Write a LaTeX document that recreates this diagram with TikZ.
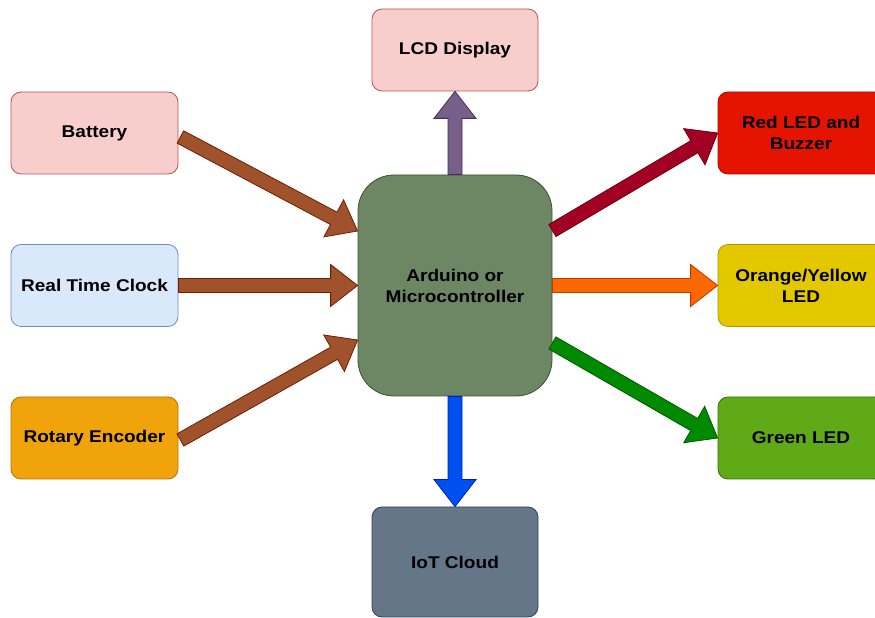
\documentclass[tikz,border=0pt]{standalone}
\usepackage{fontspec}
\setmainfont[FakeStretch=1.12]{Liberation Sans}
\usetikzlibrary{calc}
\definecolor{pinkF}{HTML}{F8CECC}\definecolor{pinkD}{HTML}{B85450}
\definecolor{blueF}{HTML}{DAE8FC}\definecolor{blueD}{HTML}{6C8EBF}
\definecolor{oranF}{HTML}{F0A30A}\definecolor{oranD}{HTML}{BD7000}
\definecolor{ardF}{HTML}{6D8764}\definecolor{ardD}{HTML}{3A5431}
\definecolor{redF}{HTML}{E51400}\definecolor{redD}{HTML}{B20000}
\definecolor{yelF}{HTML}{E3C800}\definecolor{yelD}{HTML}{B09500}
\definecolor{grnF}{HTML}{60A917}\definecolor{grnD}{HTML}{2D7600}
\definecolor{iotF}{HTML}{647687}\definecolor{iotD}{HTML}{314354}
\definecolor{brownF}{HTML}{A0522D}\definecolor{brownD}{HTML}{6D1F00}
\definecolor{purF}{HTML}{76608A}\definecolor{purD}{HTML}{432D57}
\definecolor{cobF}{HTML}{0050EF}\definecolor{cobD}{HTML}{001DBC}
\definecolor{crimF}{HTML}{A20025}\definecolor{crimD}{HTML}{6F0000}
\definecolor{orgF}{HTML}{FA6800}\definecolor{orgD}{HTML}{C73500}
\definecolor{emF}{HTML}{008A00}\definecolor{emD}{HTML}{005700}
\newcommand\blockarrow[4]{%
  \coordinate (ba-t) at (#1);
  \coordinate (ba-h) at (#2);
  \coordinate (ba-b) at ($(ba-h)!27pt!(ba-t)$);
  \draw[flexarrow, fill=#3, draw=#4]
    ($(ba-t)!7pt!90:(ba-h)$) -- ($(ba-b)!7pt!90:(ba-h)$) -- ($(ba-b)!21pt!90:(ba-h)$)
    -- (ba-h) -- ($(ba-b)!21pt!-90:(ba-h)$) -- ($(ba-b)!7pt!-90:(ba-h)$)
    -- ($(ba-t)!7pt!-90:(ba-h)$) -- cycle;}
\begin{document}
\begin{tikzpicture}[x=1pt,y=1pt,
  box/.style={rectangle, rounded corners=10pt, line width=0.8pt, minimum width=166pt,
    minimum height=82pt, align=center, inner sep=0pt,
    font=\fontsize{17}{21}\selectfont\bfseries, text=black},
  flexarrow/.style={line width=0.8pt, line join=miter}]
\useasboundingbox (0,0) rectangle (875,618);
\node[box, fill=pinkF, draw=pinkD] (lcd) at (455,568) {LCD Display};
\node[box, fill=pinkF, draw=pinkD, minimum width=167pt] (bat) at (94.5,485) {Battery};
\node[box, fill=blueF, draw=blueD, minimum width=167pt] (rtc) at (94.5,332.5) {Real Time Clock};
\node[box, fill=oranF, draw=oranD, minimum width=167pt] (rot) at (94.5,180) {Rotary Encoder};
\node[box, fill=ardF, draw=ardD, rounded corners=36pt, minimum width=194pt, minimum height=221pt] (ard) at (455,332.5) {Arduino or\\Microcontroller};
\node[box, fill=redF, draw=redD] (red) at (801,485) {Red LED and\\Buzzer};
\node[box, fill=yelF, draw=yelD] (yel) at (801,332.5) {Orange/Yellow\\LED};
\node[box, fill=grnF, draw=grnD] (grn) at (801,180) {Green LED};
\node[box, fill=iotF, draw=iotD, minimum height=110pt] (iot) at (455,56) {IoT Cloud};
\blockarrow{$(bat.east)+(2,-4)$}{$(ard.west)+(0,54.5)$}{brownF}{brownD}
\blockarrow{rtc.east}{ard.west}{brownF}{brownD}
\blockarrow{$(rot.east)+(2,-2)$}{$(ard.west)+(0,-54.5)$}{brownF}{brownD}
\blockarrow{ard.north}{lcd.south}{purF}{purD}
\blockarrow{ard.south}{iot.north}{cobF}{cobD}
\blockarrow{$(ard.east)+(0,55)$}{red.west}{crimF}{crimD}
\blockarrow{ard.east}{yel.west}{orgF}{orgD}
\blockarrow{$(ard.east)+(0,-57.5)$}{grn.west}{emF}{emD}
\end{tikzpicture}
\end{document}
